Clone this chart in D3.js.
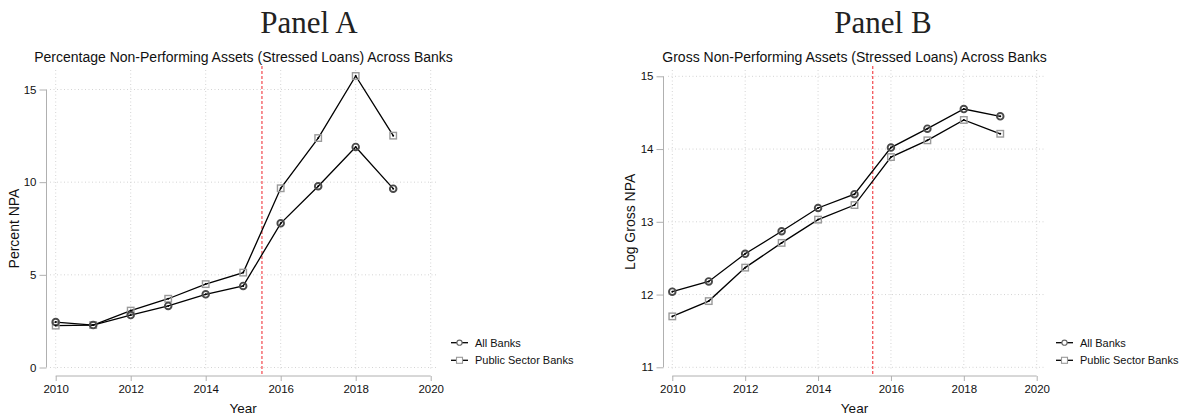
<!DOCTYPE html>
<html>
<head>
<meta charset="utf-8">
<script src="https://cdn.jsdelivr.net/npm/d3@7"></script>
<style>
  html, body { margin: 0; padding: 0; background: #fff; }
  svg { display: block; }
  text { font-family: "Liberation Sans", Arial, Helvetica, sans-serif; fill: #111; }
</style>
</head>
<body>
<svg id="chart" width="1186" height="418"></svg>
<script>
// ---- Data ----
const years = [2010, 2011, 2012, 2013, 2014, 2015, 2016, 2017, 2018, 2019];
const seriesNames = ["All Banks", "Public Sector Banks"];

// Panel A: Percent NPA
const pctAllBanks    = [2.45, 2.29, 2.83, 3.32, 3.95, 4.40, 7.78, 9.78, 11.90, 9.65];
const pctPublicBanks = [2.26, 2.29, 3.07, 3.71, 4.50, 5.12, 9.67, 12.38, 15.73, 12.51];

// Panel B: Log gross NPA
const logAllBanks    = [12.04, 12.18, 12.56, 12.87, 13.19, 13.38, 14.02, 14.28, 14.55, 14.45];
const logPublicBanks = [11.70, 11.91, 12.37, 12.71, 13.03, 13.23, 13.89, 14.12, 14.40, 14.21];

const xTicks = [2010, 2012, 2014, 2016, 2018, 2020];
const yTicksA = [0, 5, 10, 15];
const yTicksB = [11, 12, 13, 14, 15];
const eventYear = 2015.5;

const panelTitles = ["Panel A", "Panel B"];
const subTitles = [
  "Percentage Non-Performing Assets (Stressed Loans) Across Banks",
  "Gross Non-Performing Assets (Stressed Loans) Across Banks"
];
const yTitles = ["Percent NPA", "Log Gross NPA"];
const xTitle = "Year";

// ---- Drawing ----
const svg = d3.select("#chart");

const panels = [
  {
    title: panelTitles[0], sub: subTitles[0], ytitle: yTitles[0],
    series: [pctAllBanks, pctPublicBanks], yDomain: [0, 15], yTicks: yTicksA,
    x0: 55.7, x1: 430.7, y0: 367.5, y1: 89.5,
    yAxisX: 46.5, gridLeft: 50, gridRight: 437,
    titleX: 309, subX: 243.5, yTitleX: 14, legendX: 451
  },
  {
    title: panelTitles[1], sub: subTitles[1], ytitle: yTitles[1],
    series: [logAllBanks, logPublicBanks], yDomain: [11, 15], yTicks: yTicksB,
    x0: 672.3, x1: 1036.7, y0: 367.3, y1: 76.3,
    yAxisX: 663.5, gridLeft: 668, gridRight: 1045,
    titleX: 883, subX: 854.5, yTitleX: 630, legendX: 1056
  }
];

const axisColor = "#b0b0b0";
const gridColor = "#d4d4d4";

panels.forEach(p => {
  const g = svg.append("g");
  const x = d3.scaleLinear().domain([2010, 2020]).range([p.x0, p.x1]);
  const y = d3.scaleLinear().domain(p.yDomain).range([p.y0, p.y1]);
  const xAxisY = 376;
  const gridTop = 70;

  // Titles
  g.append("text").attr("x", p.titleX).attr("y", 33)
    .attr("text-anchor", "middle")
    .style("font-family", "'Liberation Serif', 'Times New Roman', serif")
    .style("font-size", "31px")
    .style("fill", "#222")
    .text(p.title);
  g.append("text").attr("x", p.subX).attr("y", 62)
    .attr("text-anchor", "middle")
    .style("font-size", "14px")
    .text(p.sub);

  // Gridlines
  g.selectAll(".vgrid").data(xTicks).enter().append("line")
    .attr("x1", d => x(d)).attr("x2", d => x(d))
    .attr("y1", gridTop).attr("y2", p.y0 + 3)
    .attr("stroke", gridColor).attr("stroke-width", 1)
    .attr("stroke-dasharray", "1,2.5");
  g.selectAll(".hgrid").data(p.yTicks).enter().append("line")
    .attr("x1", p.gridLeft).attr("x2", p.gridRight)
    .attr("y1", d => y(d)).attr("y2", d => y(d))
    .attr("stroke", gridColor).attr("stroke-width", 1)
    .attr("stroke-dasharray", "1,2.5");

  // Y axis
  const yAxis = d3.axisLeft(y).tickValues(p.yTicks).tickSize(7).tickPadding(3)
    .tickFormat(d3.format("d"));
  const ya = g.append("g").attr("transform", `translate(${p.yAxisX},0)`).call(yAxis);
  ya.select(".domain").attr("stroke", axisColor).attr("d", `M0,${p.y1}V${p.y0}`);
  ya.selectAll(".tick line").attr("stroke", axisColor);
  ya.selectAll(".tick text").style("font-size", "11.5px").attr("fill", "#111")
    .style("font-family", "'Liberation Sans', Arial, sans-serif");

  // X axis
  const xAxis = d3.axisBottom(x).tickValues(xTicks).tickSize(5).tickPadding(4)
    .tickFormat(d3.format("d"));
  const xa = g.append("g").attr("transform", `translate(0,${xAxisY})`).call(xAxis);
  xa.select(".domain").attr("stroke", axisColor).attr("d", `M${p.x0},0H${p.x1}`);
  xa.selectAll(".tick line").attr("stroke", axisColor);
  xa.selectAll(".tick text").style("font-size", "11.5px").attr("fill", "#111")
    .style("font-family", "'Liberation Sans', Arial, sans-serif");

  // Axis titles
  g.append("text").attr("x", (p.x0 + p.x1) / 2).attr("y", 413)
    .attr("text-anchor", "middle").style("font-size", "13.5px").text(xTitle);
  g.append("text")
    .attr("transform", `translate(${p.yTitleX + 5},${(p.y0 + p.y1) / 2}) rotate(-90)`)
    .attr("text-anchor", "middle").style("font-size", "14px").text(p.ytitle);

  // Event line
  g.append("line")
    .attr("x1", x(eventYear)).attr("x2", x(eventYear))
    .attr("y1", 66).attr("y2", xAxisY)
    .attr("stroke", "#f4555a").attr("stroke-width", 1.3)
    .attr("stroke-dasharray", "3,2");

  // Series lines & markers
  const line = d3.line().x((d, i) => x(years[i])).y(d => y(d));
  [1, 0].forEach(si => {
    g.append("path").datum(p.series[si]).attr("d", line)
      .attr("fill", "none").attr("stroke", "#000").attr("stroke-width", 1.3);
  });
  const squareSize = 6.5;
  g.selectAll(".sq").data(p.series[1]).enter().append("rect")
    .attr("x", (d, i) => x(years[i]) - squareSize / 2)
    .attr("y", d => y(d) - squareSize / 2)
    .attr("width", squareSize).attr("height", squareSize)
    .attr("fill", "none").attr("stroke", "#9a9a9a").attr("stroke-width", 1.4);
  g.selectAll(".ci").data(p.series[0]).enter().append("circle")
    .attr("cx", (d, i) => x(years[i])).attr("cy", d => y(d)).attr("r", 3.3)
    .attr("fill", "none").attr("stroke", "#4a4a4a").attr("stroke-width", 1.9);
  [1, 0].forEach(si => {
    g.selectAll(null).data(p.series[si]).enter().append("circle")
      .attr("cx", (d, i) => x(years[i])).attr("cy", d => y(d)).attr("r", 1)
      .attr("fill", "#000");
  });

  // Legend
  const lg = g.append("g");
  const rows = [342.7, 360.3];
  seriesNames.forEach((name, i) => {
    const yy = rows[i];
    lg.append("line").attr("x1", p.legendX).attr("x2", p.legendX + 17)
      .attr("y1", yy).attr("y2", yy).attr("stroke", "#000").attr("stroke-width", 1.3);
    if (i === 0) {
      lg.append("circle").attr("cx", p.legendX + 8.5).attr("cy", yy).attr("r", 2.6)
        .attr("fill", "#fff").attr("stroke", "#666").attr("stroke-width", 1.1);
    } else {
      lg.append("rect").attr("x", p.legendX + 8.5 - 3).attr("y", yy - 3)
        .attr("width", 6).attr("height", 6)
        .attr("fill", "#fff").attr("stroke", "#999").attr("stroke-width", 1.1);
    }
    lg.append("text").attr("x", p.legendX + 24).attr("y", yy)
      .attr("dominant-baseline", "central").style("font-size", "11px").text(name);
  });
});
</script>
</body>
</html>
